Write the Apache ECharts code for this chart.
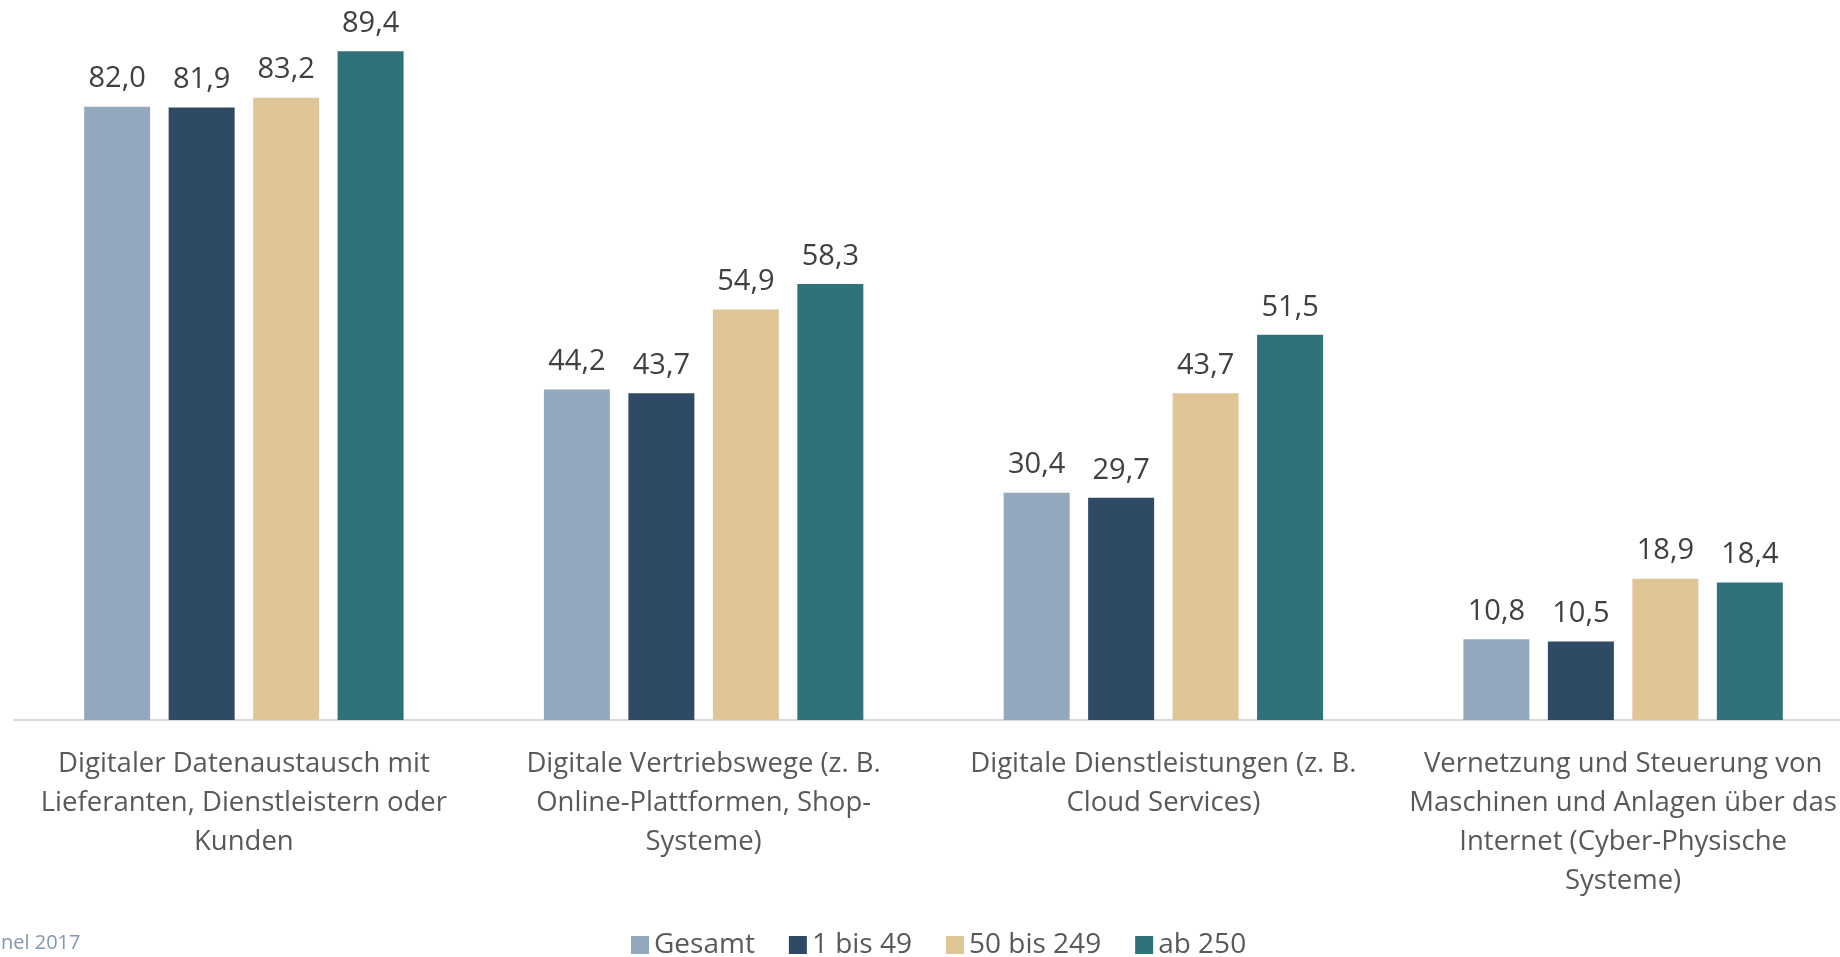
<!DOCTYPE html>
<html>
<head>
<meta charset="utf-8">
<script src="https://cdn.jsdelivr.net/npm/echarts@6/dist/echarts.min.js"></script>
<style>
html, body { margin: 0; padding: 0; background: #fff; }
#chart { width: 1840px; height: 957px; }
</style>
</head>
<body>
<div id="chart"></div>
<script>
var categories = [
    'Digitaler Datenaustausch mit\nLieferanten, Dienstleistern oder\nKunden',
    'Digitale Vertriebswege (z. B.\nOnline-Plattformen, Shop-\nSysteme)',
    'Digitale Dienstleistungen (z. B.\nCloud Services)',
    'Vernetzung und Steuerung von\nMaschinen und Anlagen über das\nInternet (Cyber-Physische\nSysteme)'
];
var seriesNames = ['Gesamt', '1 bis 49', '50 bis 249', 'ab 250'];
var gesamt = [82.0, 44.2, 30.4, 10.8];
var bis49 = [81.9, 43.7, 29.7, 10.5];
var bis249 = [83.2, 54.9, 43.7, 18.9];
var ab250 = [89.4, 58.3, 51.5, 18.4];
var colors = ['#93A8BC', '#2E4A65', '#E0C597', '#31717A'];

var fontFam = '"Open Sans", sans-serif';
var myChart = echarts.init(document.getElementById('chart'));

function makeSeries(name, values, color) {
    return {
        name: name,
        type: 'bar',
        data: values,
        barWidth: 66,
        barGap: '28%',
        itemStyle: { color: color },
        label: {
            show: true,
            position: 'top',
            distance: 13,
            color: '#404040',
            fontSize: 29,
            fontFamily: fontFam,
            formatter: function (p) { return p.value.toFixed(1).replace('.', ','); }
        }
    };
}

var option = {
    animation: false,
    title: {
        text: 'nel 2017',
        left: -4,
        top: 928,
        textStyle: { color: '#8497B0', fontSize: 20, fontWeight: 'normal', fontFamily: fontFam }
    },
    legend: {
        data: seriesNames,
        left: 626,
        top: 926,
        itemWidth: 18,
        itemHeight: 18,
        itemGap: 34,
        icon: 'rect',
        textStyle: { color: '#595959', fontSize: 28, fontFamily: fontFam }
    },
    grid: { left: 14, right: -13, top: 2, height: 718, containLabel: false, outerBoundsMode: 'none' },
    xAxis: {
        type: 'category',
        data: categories,
        axisLine: { lineStyle: { color: '#D9D9D9', width: 2 } },
        axisTick: { show: false },
        axisLabel: {
            interval: 0,
            margin: 25,
            color: '#595959',
            fontSize: 27.5,
            lineHeight: 39,
            fontFamily: fontFam,
            align: 'center'
        }
    },
    yAxis: {
        type: 'value',
        min: 0,
        max: 96,
        show: false,
        splitLine: { show: false }
    },
    series: [
        makeSeries(seriesNames[0], gesamt, colors[0]),
        makeSeries(seriesNames[1], bis49, colors[1]),
        makeSeries(seriesNames[2], bis249, colors[2]),
        makeSeries(seriesNames[3], ab250, colors[3])
    ]
};
myChart.setOption(option);
</script>
</body>
</html>
